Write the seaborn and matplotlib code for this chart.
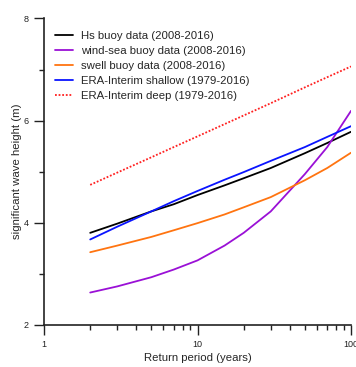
import numpy as np
import pandas as pd
import matplotlib
matplotlib.use("Agg")
import matplotlib.pyplot as plt
from matplotlib.ticker import MultipleLocator, LogLocator, FixedFormatter, FixedLocator
import seaborn as sns

# return periods (years) and fitted significant wave heights (m)
return_period = [2, 3, 5, 7, 10, 15, 20, 30, 50, 70, 100]
hs_buoy = [3.80, 3.98, 4.22, 4.36, 4.54, 4.73, 4.87, 5.07, 5.36, 5.56, 5.78]
windsea_buoy = [2.63, 2.75, 2.93, 3.08, 3.26, 3.55, 3.80, 4.22, 4.95, 5.48, 6.19]
swell_buoy = [3.42, 3.55, 3.72, 3.85, 3.99, 4.16, 4.30, 4.50, 4.83, 5.07, 5.37]
era_shallow = [3.67, 3.92, 4.22, 4.42, 4.62, 4.84, 4.99, 5.21, 5.48, 5.68, 5.89]
era_deep = [4.74, 4.98, 5.28, 5.48, 5.69, 5.93, 6.10, 6.34, 6.65, 6.85, 7.06]

labels = ["Hs buoy data (2008-2016)", "wind-sea buoy data (2008-2016)",
          "swell buoy data (2008-2016)", "ERA-Interim shallow (1979-2016)",
          "ERA-Interim deep (1979-2016)"]
series = [hs_buoy, windsea_buoy, swell_buoy, era_shallow, era_deep]
colors = ["#000000", "#9a10d6", "#ff7410", "#0a14ff", "#ff2020"]
styles = ["-", "-", "-", "-", (0, (1, 1))]

sns.set_style("ticks")
plt.rcParams['font.family'] = ['Liberation Sans', 'DejaVu Sans']

fig = plt.figure(figsize=(3.56, 3.67), dpi=100)
ax = fig.add_axes([0.1236, 0.1153, 0.8624, 0.8343])

for lab, vals, col, ls in zip(labels, series, colors, styles):
    sns.lineplot(x=return_period, y=vals, ax=ax, color=col, linestyle=ls,
                 linewidth=1.3, label=lab)

ax.set_xscale("log")
ax.set_xlim(1, 100)
ax.set_ylim(2, 8)
ax.xaxis.set_major_locator(FixedLocator([1, 10, 100]))
ax.xaxis.set_major_formatter(FixedFormatter(["1", "10", "100"]))
ax.xaxis.set_minor_locator(LogLocator(base=10, subs=np.arange(2, 10)))
ax.xaxis.set_minor_formatter(plt.NullFormatter())
ax.yaxis.set_major_locator(MultipleLocator(2))
ax.yaxis.set_minor_locator(MultipleLocator(1))

ax.tick_params(which="major", length=7, width=1, labelsize=6.5, pad=4, colors="#222222")
ax.tick_params(which="minor", length=3.6, width=1, colors="#222222")
for s in ["left", "bottom"]:
    ax.spines[s].set_linewidth(1.2)
    ax.spines[s].set_color("#222222")
sns.despine(ax=ax)

ax.set_xlabel("Return period (years)", fontsize=8.2, labelpad=3)
ax.set_ylabel("significant wave height (m)", fontsize=8.2, labelpad=1)

ax.legend(loc="upper left", bbox_to_anchor=(0.036, 0.96), frameon=False,
          fontsize=8.2, borderpad=0, borderaxespad=0, labelspacing=0.45,
          handlelength=1.58, handletextpad=0.68)

fig.savefig("out.png", dpi=100)
